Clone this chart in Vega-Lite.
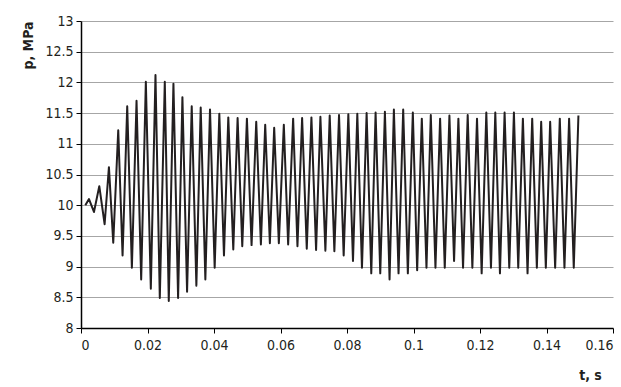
{
  "$schema": "https://vega.github.io/schema/vega-lite/v6.json",
  "width": 532,
  "height": 307,
  "autosize": {"type": "none"},
  "padding": {"left": 81, "top": 21, "right": 8, "bottom": 59},
  "background": "white",
  "config": {
    "view": {"stroke": null},
    "font": "Liberation Sans Narrow, DejaVu Sans Condensed, sans-serif"
  },
  "data": {
    "values": [
      {"t": 0.0013, "p": 10.0}, {"t": 0.0024, "p": 10.10}, {"t": 0.0039, "p": 9.89}, {"t": 0.0055, "p": 10.31},
      {"t": 0.0071, "p": 9.69}, {"t": 0.0084, "p": 10.62}, {"t": 0.0097, "p": 9.39}, {"t": 0.0112, "p": 11.22},
      {"t": 0.0125, "p": 9.18}, {"t": 0.0139, "p": 11.61}, {"t": 0.0153, "p": 8.98}, {"t": 0.0167, "p": 11.70},
      {"t": 0.0181, "p": 8.79}, {"t": 0.0195, "p": 12.01}, {"t": 0.0210, "p": 8.64}, {"t": 0.0224, "p": 12.12},
      {"t": 0.0237, "p": 8.49}, {"t": 0.0252, "p": 12.01}, {"t": 0.0264, "p": 8.44}, {"t": 0.0278, "p": 11.98},
      {"t": 0.0292, "p": 8.49}, {"t": 0.0305, "p": 11.76}, {"t": 0.0319, "p": 8.59}, {"t": 0.0333, "p": 11.61},
      {"t": 0.0347, "p": 8.69}, {"t": 0.0360, "p": 11.59}, {"t": 0.0374, "p": 8.79}, {"t": 0.0388, "p": 11.56},
      {"t": 0.0402, "p": 8.98}, {"t": 0.0416, "p": 11.49}, {"t": 0.0430, "p": 9.18}, {"t": 0.0443, "p": 11.43},
      {"t": 0.0458, "p": 9.28}, {"t": 0.0471, "p": 11.42}, {"t": 0.0485, "p": 9.33}, {"t": 0.0499, "p": 11.41},
      {"t": 0.0513, "p": 9.35}, {"t": 0.0527, "p": 11.36}, {"t": 0.0541, "p": 9.36}, {"t": 0.0554, "p": 11.31},
      {"t": 0.0568, "p": 9.38}, {"t": 0.0581, "p": 11.26}, {"t": 0.0595, "p": 9.38}, {"t": 0.0610, "p": 11.31},
      {"t": 0.0623, "p": 9.36}, {"t": 0.0638, "p": 11.41}, {"t": 0.0651, "p": 9.33}, {"t": 0.0665, "p": 11.42},
      {"t": 0.0679, "p": 9.29}, {"t": 0.0693, "p": 11.43}, {"t": 0.0707, "p": 9.27}, {"t": 0.0720, "p": 11.44},
      {"t": 0.0735, "p": 9.26}, {"t": 0.0748, "p": 11.46}, {"t": 0.0762, "p": 9.25}, {"t": 0.0776, "p": 11.47},
      {"t": 0.0790, "p": 9.18}, {"t": 0.0804, "p": 11.48}, {"t": 0.0818, "p": 9.09}, {"t": 0.0831, "p": 11.49},
      {"t": 0.0845, "p": 8.98}, {"t": 0.0859, "p": 11.50}, {"t": 0.0873, "p": 8.89}, {"t": 0.0886, "p": 11.51},
      {"t": 0.0900, "p": 8.89}, {"t": 0.0914, "p": 11.52}, {"t": 0.0928, "p": 8.79}, {"t": 0.0941, "p": 11.56},
      {"t": 0.0955, "p": 8.89}, {"t": 0.0969, "p": 11.56}, {"t": 0.0983, "p": 8.89}, {"t": 0.0998, "p": 11.51},
      {"t": 0.1011, "p": 8.94}, {"t": 0.1025, "p": 11.41}, {"t": 0.1039, "p": 8.98}, {"t": 0.1052, "p": 11.47},
      {"t": 0.1066, "p": 8.98}, {"t": 0.1080, "p": 11.41}, {"t": 0.1094, "p": 8.98}, {"t": 0.1108, "p": 11.46},
      {"t": 0.1122, "p": 9.09}, {"t": 0.1135, "p": 11.41}, {"t": 0.1149, "p": 8.98}, {"t": 0.1163, "p": 11.47},
      {"t": 0.1177, "p": 8.98}, {"t": 0.1191, "p": 11.41}, {"t": 0.1205, "p": 8.89}, {"t": 0.1219, "p": 11.51},
      {"t": 0.1233, "p": 8.98}, {"t": 0.1246, "p": 11.51}, {"t": 0.1260, "p": 8.89}, {"t": 0.1274, "p": 11.51},
      {"t": 0.1288, "p": 8.98}, {"t": 0.1302, "p": 11.51}, {"t": 0.1315, "p": 8.98}, {"t": 0.1329, "p": 11.41},
      {"t": 0.1343, "p": 8.89}, {"t": 0.1357, "p": 11.41}, {"t": 0.1371, "p": 8.98}, {"t": 0.1384, "p": 11.36},
      {"t": 0.1398, "p": 8.98}, {"t": 0.1411, "p": 11.36}, {"t": 0.1426, "p": 8.98}, {"t": 0.1440, "p": 11.41},
      {"t": 0.1454, "p": 8.98}, {"t": 0.1468, "p": 11.41}, {"t": 0.1482, "p": 8.98}, {"t": 0.1496, "p": 11.46}
    ]
  },
  "mark": {"type": "line", "color": "#231f20", "strokeWidth": 2, "strokeJoin": "round"},
  "encoding": {
    "x": {
      "field": "t",
      "type": "quantitative",
      "scale": {"domain": [0, 0.16], "nice": false, "zero": false},
      "axis": {
        "values": [0, 0.02, 0.04, 0.06, 0.08, 0.1, 0.12, 0.14, 0.16],
        "format": "~g",
        "grid": false,
        "domainColor": "#000000",
        "domainWidth": 1.5,
        "tickColor": "#000000",
        "tickSize": 5,
        "tickWidth": 1,
        "labelFontSize": 14,
        "labelColor": "#231f20",
        "labelPadding": 5,
        "title": "t, s",
        "titleFontSize": 14,
        "titleFontWeight": "bold",
        "titleColor": "#231f20",
        "titleX": 509,
        "titleY": 47,
        "titleAlign": "center",
        "titleBaseline": "middle"
      }
    },
    "y": {
      "field": "p",
      "type": "quantitative",
      "scale": {"domain": [8, 13], "nice": false, "zero": false},
      "axis": {
        "values": [8, 8.5, 9, 9.5, 10, 10.5, 11, 11.5, 12, 12.5, 13],
        "format": "~g",
        "grid": true,
        "gridColor": "#a6a6a6",
        "gridWidth": 1,
        "domainColor": "#000000",
        "domainWidth": 1.5,
        "tickColor": "#000000",
        "tickSize": 5,
        "tickWidth": 1,
        "labelFontSize": 14,
        "labelColor": "#231f20",
        "labelPadding": 3,
        "title": "p, MPa",
        "titleFontSize": 14,
        "titleFontWeight": "bold",
        "titleColor": "#231f20",
        "titleAngle": -90,
        "titleX": -53,
        "titleY": 0,
        "titleAlign": "right",
        "titleBaseline": "middle"
      }
    }
  }
}
